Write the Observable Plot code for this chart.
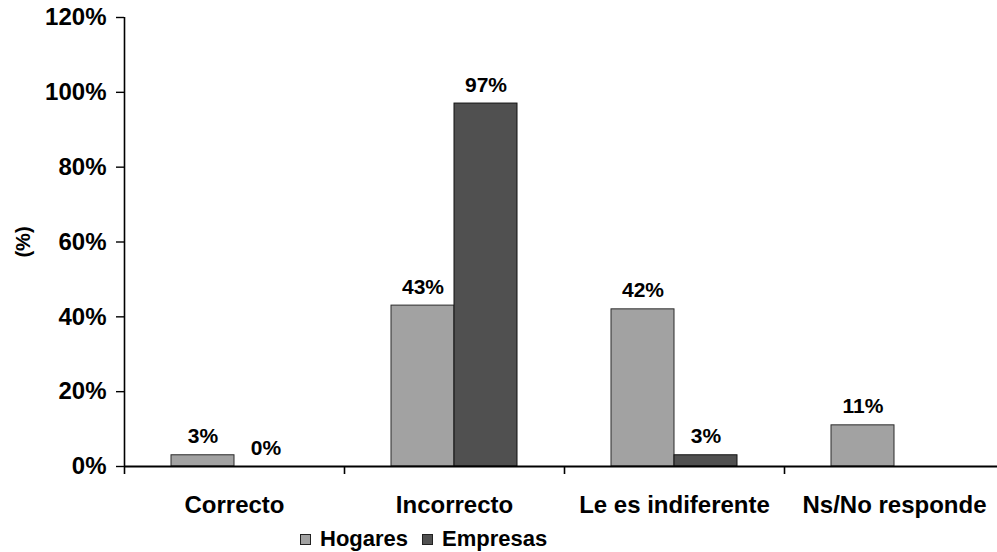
<!DOCTYPE html>
<html><head><meta charset="utf-8">
<script src="https://cdn.jsdelivr.net/npm/d3@7"></script>
<script src="https://cdn.jsdelivr.net/npm/@observablehq/plot@0.6"></script>
<style>
html,body{margin:0;padding:0;background:#fff;overflow:hidden;}
body{font-family:"Liberation Sans",Arial,sans-serif;}
#wrap{position:relative;width:997px;height:552px;overflow:hidden;}
#chart svg text{font-weight:bold;}
#legend{position:absolute;left:300px;top:524px;height:30px;display:flex;align-items:center;font-weight:bold;font-size:22px;color:#000;}
.sw{width:11px;height:11px;display:inline-block;margin-right:9px;box-sizing:border-box;border:1px solid #222;}
.item{display:flex;align-items:center;margin-right:14px;}
</style></head><body>
<div id="wrap"><div id="chart"></div><div id="legend"></div></div>
<script>
const categories = ["Correcto", "Incorrecto", "Le es indiferente", "Ns/No responde"];
const seriesNames = ["Hogares", "Empresas"];
const hogares = [0.03, 0.43, 0.42, 0.11];
const empresas = [0.00, 0.97, 0.03, null];
const yTicks = [0, 0.2, 0.4, 0.6, 0.8, 1.0, 1.2];
const seriesColors = ["#a2a2a2", "#505050"];

const hogData = categories.map((c, i) => ({category: c, series: seriesNames[0], value: hogares[i]}));
const empData = categories.map((c, i) => ({category: c, series: seriesNames[1], value: empresas[i]})).filter(d => d.value != null);

const left = 124, bw = 220, barW = 63;
const fmt = d3.format(".0%");
const font = '"Liberation Sans", Arial, sans-serif';

const chart = Plot.plot({
  width: 997, height: 518,
  marginTop: 17, marginBottom: 52, marginLeft: left, marginRight: 0,
  style: {fontFamily: font, color: "#000", background: "#fff"},
  x: {domain: categories, range: [left, left + bw * categories.length], padding: 0, axis: null},
  y: {domain: [0, yTicks[yTicks.length - 1]], axis: null},
  marks: [
    Plot.barY(hogData, {x: "category", y: "value", fill: seriesColors[0], stroke: "#2a2a2a", strokeWidth: 1,
      insetLeft: bw / 2 - barW, insetRight: bw / 2}),
    Plot.barY(empData, {x: "category", y: "value", fill: seriesColors[1], stroke: "#111", strokeWidth: 1,
      insetLeft: bw / 2, insetRight: bw / 2 - barW}),
    Plot.text(hogData, {x: "category", y: "value", text: d => fmt(d.value), dx: -barW / 2, dy: -12,
      lineAnchor: "bottom", fontSize: 21, fontWeight: "bold", fill: "#000"}),
    Plot.text(empData, {x: "category", y: "value", text: d => fmt(d.value), dx: barW / 2, dy: -12,
      lineAnchor: "bottom", fontSize: 21, fontWeight: "bold", fill: "#000"}),
    Plot.ruleY([0], {stroke: "#000", strokeWidth: 1.8}),
    Plot.ruleX(categories.slice(0, 1), {x: d => d, y1: yTicks[yTicks.length - 1], y2: 0, dx: -bw / 2, insetBottom: -8, stroke: "#000", strokeWidth: 1.6}),
    Plot.ruleX(categories.slice(1), {x: d => d, y1: 0, y2: 0, dx: -bw / 2, insetBottom: -8, stroke: "#000", strokeWidth: 1.6}),
    Plot.axisY({ticks: yTicks, tickFormat: fmt, tickSize: 8, tickPadding: 10, fontSize: 24, fontWeight: "bold", label: null, strokeWidth: 1.4}),
    Plot.axisX({tickSize: 0, tickPadding: 29, fontSize: 24, fontWeight: "bold", label: null}),
    Plot.text(["(%)"], {text: d => d, frameAnchor: "left", textAnchor: "middle", dx: -101, rotate: -90, fontSize: 20, fontWeight: "bold", fill: "#000"})
  ]
});
document.getElementById("chart").appendChild(chart);

const legend = document.getElementById("legend");
seriesNames.forEach((s, i) => {
  const item = document.createElement("span");
  item.className = "item";
  const sw = document.createElement("span");
  sw.className = "sw";
  sw.style.background = seriesColors[i];
  item.appendChild(sw);
  item.appendChild(document.createTextNode(s));
  legend.appendChild(item);
});
</script>
</body></html>
